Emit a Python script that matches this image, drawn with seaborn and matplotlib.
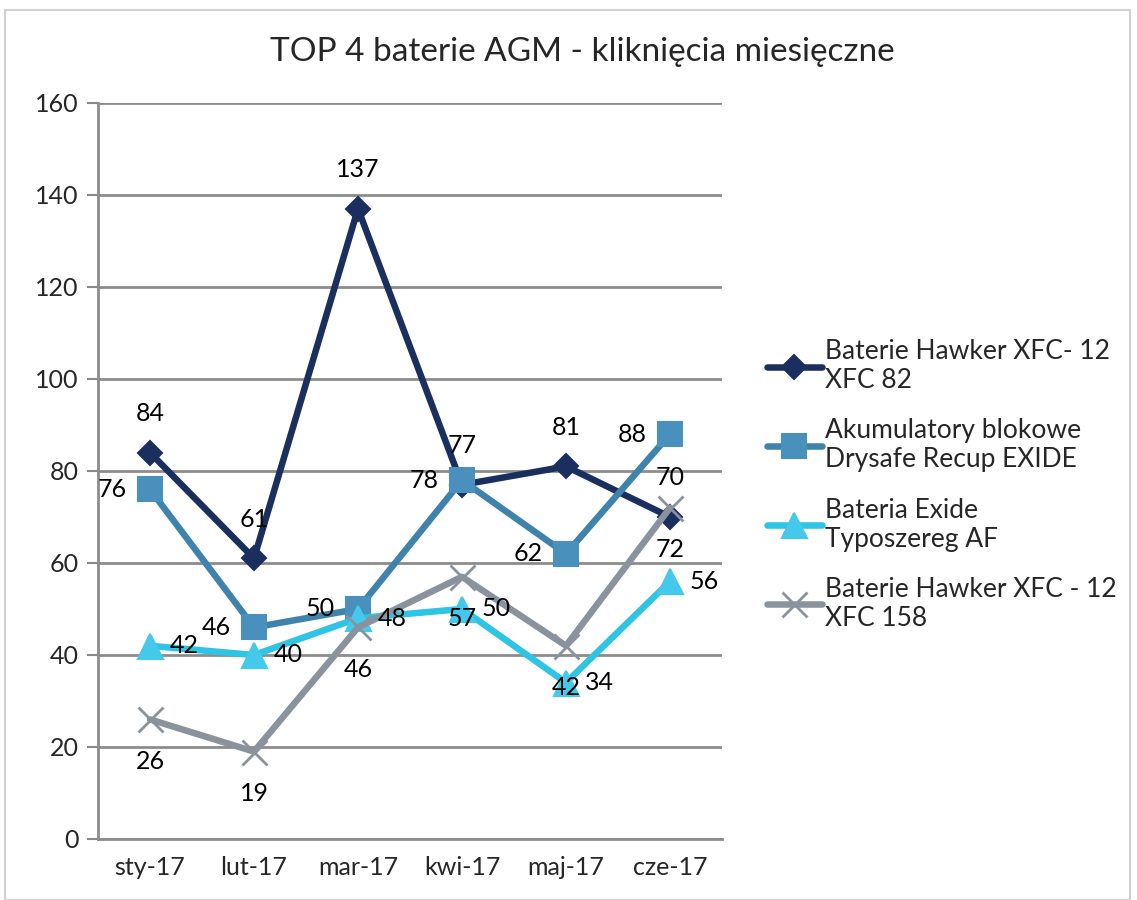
import matplotlib
matplotlib.use("Agg")
import matplotlib.pyplot as plt
import seaborn as sns
import pandas as pd
import numpy as np

months = ["sty-17", "lut-17", "mar-17", "kwi-17", "maj-17", "cze-17"]
series_names = [
    "Baterie Hawker XFC- 12\nXFC 82",
    "Akumulatory blokowe\nDrysafe Recup EXIDE",
    "Bateria Exide\nTyposzereg AF",
    "Baterie Hawker XFC - 12\nXFC 158",
]
hawker82 = [84, 61, 137, 77, 81, 70]
drysafe = [76, 46, 50, 78, 62, 88]
exide_af = [42, 40, 48, 50, 34, 56]
hawker158 = [26, 19, 46, 57, 42, 72]
values = [hawker82, drysafe, exide_af, hawker158]

colors = ["#1b2f5e", "#3f83ad", "#2ec4e4", "#8a939d"]
mfc = ["#1b2f5e", "#4a90bc", "#45c9ea", "#8a939d"]
markers = ["D", "s", "^", "x"]
msizes = [12, 17, 18, 18]
label_pos = ["above", "left", "right", "below"]

sns.set_theme(style="white")
plt.rcParams["font.family"] = ["Lato", "DejaVu Sans"]

fig = plt.figure(figsize=(11.37, 9), dpi=100)
ax = fig.add_axes([98 / 1137, 1 - 839 / 900, (722 - 98) / 1137, (839 - 103) / 900])

rows = []
for name, vals in zip(series_names, values):
    for i, v in enumerate(vals):
        rows.append({"x": i, "value": v, "series": name})
df = pd.DataFrame(rows)

ax.set_axisbelow(True)
for k, name in enumerate(series_names):
    sub = df[df["series"] == name]
    sns.lineplot(data=sub, x="x", y="value", ax=ax, color=colors[k], lw=4.7,
                 marker=markers[k], markersize=msizes[k], markerfacecolor=mfc[k],
                 markeredgecolor=mfc[k] if markers[k] != "x" else colors[k],
                 markeredgewidth=1.5 if markers[k] != "x" else 2.0,
                 label=name, zorder=3 + k)

LFS = 18
for k, vals in enumerate(values):
    for i, v in enumerate(vals):
        pos = label_pos[k]
        if pos == "above":
            ax.annotate(str(v), (i, v), xytext=(0, 20), textcoords="offset points",
                        ha="center", va="bottom", fontsize=LFS, color="black", zorder=10)
        elif pos == "left":
            ax.annotate(str(v), (i, v), xytext=(-17, 0), textcoords="offset points",
                        ha="right", va="center", fontsize=LFS, color="black", zorder=10)
        elif pos == "right":
            ax.annotate(str(v), (i, v), xytext=(14, 0), textcoords="offset points",
                        ha="left", va="center", fontsize=LFS, color="black", zorder=10)
        else:
            ax.annotate(str(v), (i, v), xytext=(0, -22), textcoords="offset points",
                        ha="center", va="top", fontsize=LFS, color="black", zorder=10)

ax.set_xlim(-0.5, 5.5)
ax.set_ylim(0, 160)
ax.set_yticks(np.arange(0, 161, 20))
ax.set_xticks(range(len(months)))
ax.set_xticklabels(months)
ax.set_xticks(np.arange(-0.5, 5.6, 1), minor=True)
ax.tick_params(axis="x", which="major", length=0, labelsize=18, pad=12)
ax.tick_params(axis="x", which="minor", length=8, width=1.5, color="#888888", direction="out")
ax.tick_params(axis="y", which="major", length=8, width=1.5, color="#888888", labelsize=18,
               direction="out", left=True, pad=6)
ax.set_xlabel("")
ax.set_ylabel("")
ax.yaxis.grid(True, color="#8c8c8c", lw=2)
ax.xaxis.grid(False)
for s in ["top", "right"]:
    ax.spines[s].set_visible(False)
for s in ["left", "bottom"]:
    ax.spines[s].set_color("#8c8c8c")
    ax.spines[s].set_linewidth(2)

if ax.get_legend():
    ax.get_legend().remove()
handles, labels = ax.get_legend_handles_labels()
fig.legend(handles, labels, loc="center left", bbox_to_anchor=(756 / 1137, 1 - 485 / 900),
           frameon=False, fontsize=19, handlelength=2.1, handletextpad=0.1,
           labelspacing=0.95, borderaxespad=0)

fig.text(0.5 + 14 / 1137, 1 - 52 / 900, "TOP 4 baterie AGM - kliknięcia miesięczne",
         ha="center", va="center", fontsize=24)

frame = plt.Rectangle((5 / 1137, 0), 1125 / 1137, 1 - 10 / 900, transform=fig.transFigure,
                      fill=False, edgecolor="#d0d0d0", lw=1.5)
fig.patches.append(frame)

fig.savefig("out.png", dpi=100)
